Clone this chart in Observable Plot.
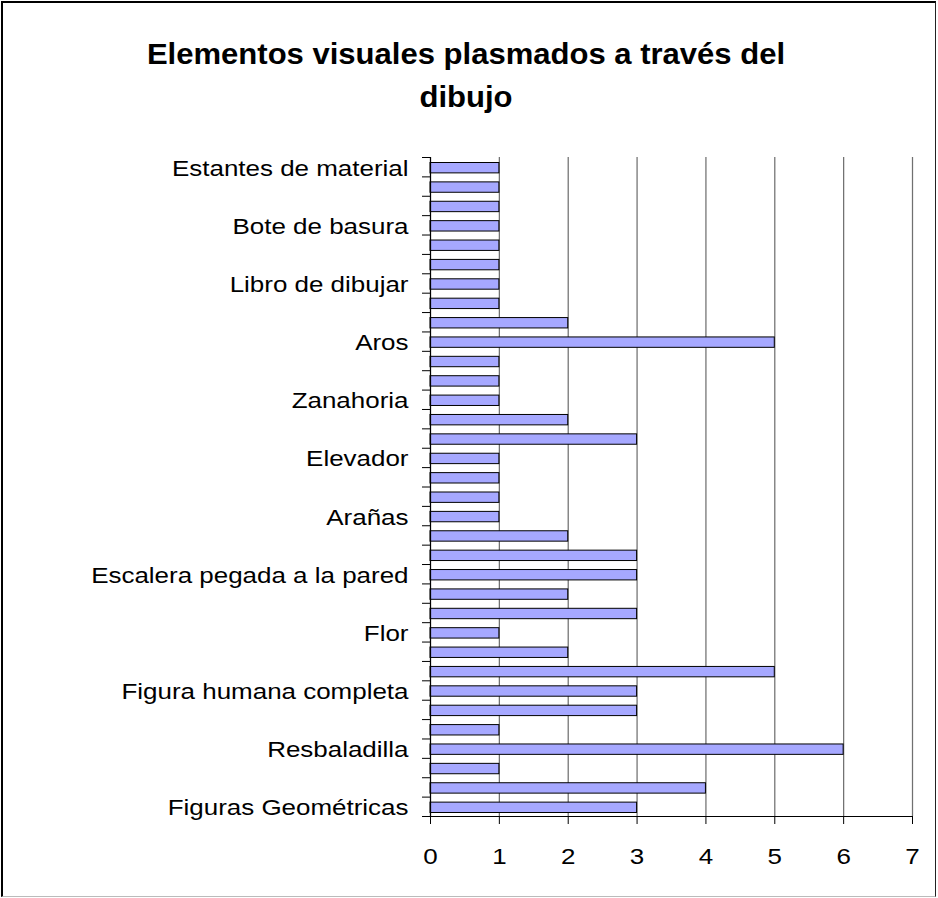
<!DOCTYPE html>
<html>
<head>
<meta charset="utf-8">
<script src="https://cdn.jsdelivr.net/npm/d3@7"></script>
<script src="https://cdn.jsdelivr.net/npm/@observablehq/plot@0.6"></script>
<style>
  html, body { margin: 0; padding: 0; background: #fff; }
  #chart { position: relative; width: 938px; height: 898px; overflow: hidden;
           font-family: "Liberation Sans", Arial, sans-serif; }
  #chart svg { position: absolute; left: 0; top: 0; }
  #frame { position: absolute; left: 1px; top: 1px; width: 932px; height: 893px;
           border-top: 2px solid #000; border-left: 2px solid #000;
           border-right: 1px solid #222; border-bottom: 1px solid #bbb; pointer-events: none; }
  .title { position: absolute; left: 0; top: 33px; width: 932px; text-align: center;
           font-weight: bold; font-size: 29px; line-height: 43px; color: #000;
           transform: scaleX(1.07); transform-origin: 466px 0; }
</style>
</head>
<body>
<div id="chart">
  <div class="title">Elementos visuales plasmados a través del<br>dibujo</div>
  <div id="frame"></div>
</div>
<script>
// Counts per category, listed from the bottom bar upwards
const values = [3, 4, 1, 6, 1, 3, 3, 5, 2, 1, 3, 2, 3, 3, 2, 1, 1,
                1, 1, 3, 2, 1, 1, 1, 5, 2, 1, 1, 1, 1, 1, 1, 1, 1];
// Category names printed on the axis (every third category, from the bottom)
const labels = ["Figuras Geométricas", "Resbaladilla", "Figura humana completa", "Flor",
                "Escalera pegada a la pared", "Arañas", "Elevador", "Zanahoria", "Aros",
                "Libro de dibujar", "Bote de basura", "Estantes de material"];
const labelStep = 3;
const xTicks = [0, 1, 2, 3, 4, 5, 6, 7];

const n = values.length;
const rows = values.map((v, i) => ({i, v}));
const labelPos = labels.map((_, k) => k * labelStep + 0.5);

const plot = Plot.plot({
  width: 938,
  height: 898,
  marginLeft: 430,
  marginRight: 26,
  marginTop: 157,
  marginBottom: 82,
  style: {fontFamily: "Liberation Sans, Arial, sans-serif", background: "transparent", color: "#000"},
  x: {domain: [0, 7], label: null},
  y: {domain: [0, n], label: null},
  marks: [
    Plot.ruleX(xTicks.slice(1), {stroke: "#707070", strokeWidth: 1.25}),
    Plot.rectX(rows, {
      x1: 0, x2: "v", y1: "i", y2: d => d.i + 1,
      insetTop: 5.5, insetBottom: 3.5,
      fill: "#a6a8ff", stroke: "#000", strokeWidth: 1
    }),
    Plot.ruleX([0], {stroke: "#000", strokeWidth: 1.25}),
    Plot.ruleY([0], {stroke: "#000"}),
    Plot.axisX(xTicks, {tickSize: 8, tickPadding: 24, fontSize: 22, label: null}),
    Plot.axisY(d3.range(n + 1), {tickSize: 8, tickFormat: () => "", label: null}),
    Plot.axisY(labelPos, {
      tickSize: 0, tickPadding: 22, fontSize: 22, dy: 1.5, label: null,
      tickFormat: d => labels[Math.round((d - 0.5) / labelStep)]
    })
  ]
});

// Widen the axis lettering horizontally around each label's anchor point
plot.querySelectorAll('g[aria-label$="tick label"] text').forEach(t => {
  const tr = t.getAttribute("transform");
  if (tr) {
    t.setAttribute("transform", tr + " scale(1.18,1)");
  } else {
    const x = +(t.getAttribute("x") || 0);
    t.setAttribute("transform", `translate(${x},0) scale(1.18,1) translate(${-x},0)`);
  }
});

const chart = document.getElementById("chart");
chart.insertBefore(plot, chart.firstChild);
</script>
</body>
</html>
